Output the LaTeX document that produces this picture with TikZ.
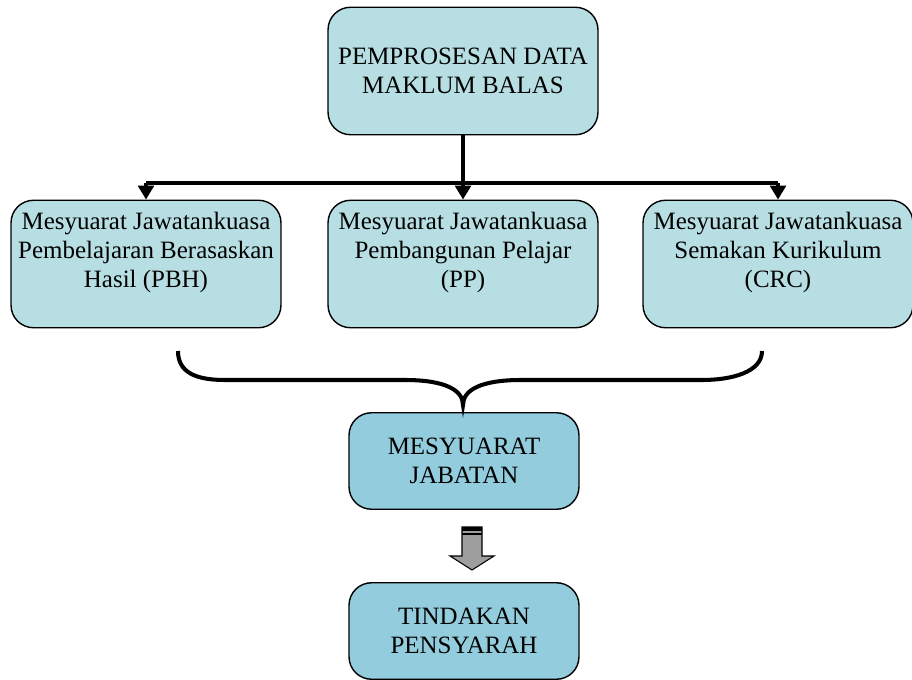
\documentclass[tikz,border=0pt]{standalone}
\usepackage{fontspec}
\setmainfont{Liberation Serif}
\usetikzlibrary{arrows.meta}
\definecolor{lightbox}{HTML}{B7DEE2}
\definecolor{darkbox}{HTML}{93CDDD}
\begin{document}
\begin{tikzpicture}[x=0.02cm,y=-0.02cm]
  \tikzstyle{box}=[draw=black,line width=0.8pt,rounded corners=0.45cm,fill=lightbox,
    align=center,minimum width=5.4cm,minimum height=2.55cm,inner sep=1pt,
    font=\fontsize{14.2}{16.4}\selectfont]
  \tikzstyle{sub}=[box,fill=darkbox,minimum width=4.6cm,minimum height=1.93cm]
  \tikzstyle{link}=[line width=2.8pt]
  \useasboundingbox (0,0) rectangle (912,679);

  \node[box] (data) at (463,71) {PEMPROSESAN DATA\\MAKLUM BALAS};
  \node[box] (pbh) at (146,264) {Mesyuarat Jawatankuasa\\Pembelajaran Berasaskan\\Hasil (PBH)\\~};
  \node[box] (pp) at (463,264) {Mesyuarat Jawatankuasa\\Pembangunan Pelajar\\(PP)\\~};
  \node[box] (crc) at (778,264) {Mesyuarat Jawatankuasa\\Semakan Kurikulum\\(CRC)\\~};
  \node[sub] (jabatan) at (464,461) {MESYUARAT\\JABATAN};
  \node[sub] (tindakan) at (464,631) {TINDAKAN\\PENSYARAH};

  \coordinate (J) at (463,183);
  \coordinate (J_l) at (146,183);
  \coordinate (J_r) at (778,183);
  \draw[link] (data) -- (J);
  \draw[link] (J_l) -- (J_r);
  \draw[link,-{Triangle[width=9pt,length=8pt]}] (J_l) -- (pbh.north);
  \draw[link,-{Triangle[width=9pt,length=8pt]}] (J) -- (pp.north);
  \draw[link,-{Triangle[width=9pt,length=8pt]}] (J_r) -- (crc.north);

  % brace
  \draw[line width=2.3pt]
    (178,351) .. controls (178,372) and (195,380) .. (225,380) -- (405,380)
    .. controls (445,380) and (463,390) .. (463,405)
    .. controls (463,390) and (481,380) .. (521,380) -- (702,380)
    .. controls (732,380) and (762,372) .. (762,351);

  % block arrow
  \draw[fill=black!38,line width=0.6pt]
    (462,527) -- (482,527) -- (482,556) -- (494,556) -- (472,570)
    -- (450,556) -- (462,556) -- cycle;
  \fill (462,527) rectangle (482,530.5);
  \fill (462,533) rectangle (482,535);
\end{tikzpicture}
\end{document}
